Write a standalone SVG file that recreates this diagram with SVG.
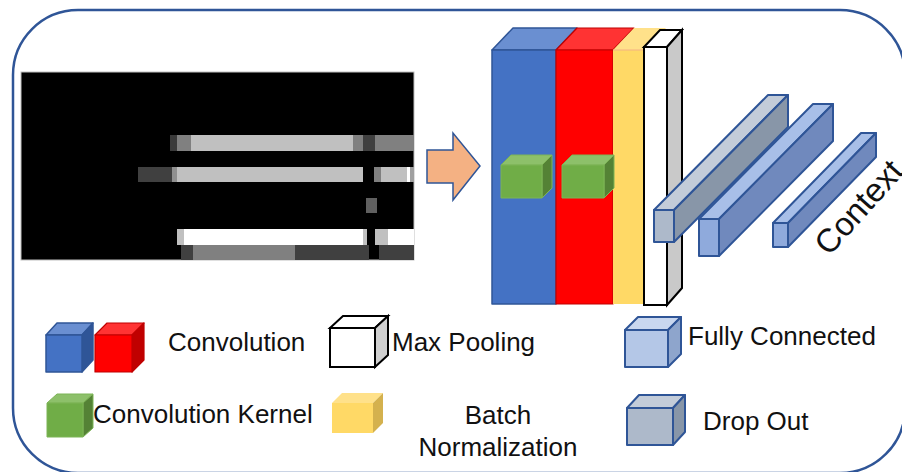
<svg xmlns="http://www.w3.org/2000/svg" width="902" height="472" viewBox="0 0 902 472">
  <style>
    .lbl { font-family: "Liberation Sans", Arial, sans-serif; font-size: 26px; fill: #111; }
    .ctx { font-family: "Liberation Sans", Arial, sans-serif; font-size: 33px; fill: #111; }
    .blue-f { fill: #4472C4; } .blue-t { fill: #6A8FD1; } .blue-s { fill: #2F5597; }
    .blue-e { stroke: #2F5597; stroke-width: 1.5; stroke-linejoin: round; }
    .red-f { fill: #FF0000; } .red-t { fill: #FF3333; } .red-s { fill: #C00000; }
    .red-e { stroke: #C00000; stroke-width: 1.2; stroke-linejoin: round; }
    .yel-f { fill: #FFD966; } .yel-t { fill: #FFE18A; } .yel-s { fill: #D4B14E; }
    .grn-f { fill: #70AD47; } .grn-t { fill: #8DC06A; } .grn-s { fill: #548235; }
    .grn-e { stroke: #7DB456; stroke-width: 1; stroke-linejoin: round; }
    .mp-e { stroke: #000; stroke-width: 2; stroke-linejoin: miter; }
    .fc-f { fill: #B4C7E7; } .fc-t { fill: #C9D7EF; } .fc-s { fill: #8EA5CC; }
    .fc2-f { fill: #8FAADC; } .fc2-t { fill: #A8BFE8; } .fc2-s { fill: #7089BD; }
    .do-f { fill: #ADB9CA; } .do-t { fill: #C3CCD9; } .do-s { fill: #8896A8; }
    .edge { stroke: #2F5597; stroke-width: 2; stroke-linejoin: round; }
  </style>

  <!-- outer frame -->
  <rect x="13" y="10" width="892" height="463" rx="65" ry="65" fill="#fff" stroke="#2F5597" stroke-width="2.5"/>

  <!-- input spectrogram-like image -->
  <g id="input-image">
    <rect x="21" y="72" width="393" height="188" fill="#000" stroke="#BFBFBF" stroke-width="1"/>
    <!-- row 1 -->
    <rect x="170" y="135" width="7" height="16" fill="#3A3A3A"/>
    <rect x="177" y="135" width="14" height="16" fill="#808080"/>
    <rect x="191" y="135" width="162" height="16" fill="#C0C0C0"/>
    <rect x="353" y="135" width="10" height="16" fill="#808080"/>
    <rect x="363" y="135" width="12" height="16" fill="#404040"/>
    <rect x="375" y="135" width="39" height="16" fill="#808080"/>
    <!-- row 2 -->
    <rect x="138" y="167" width="34" height="15" fill="#404040"/>
    <rect x="172" y="167" width="5" height="15" fill="#909090"/>
    <rect x="177" y="167" width="186" height="15" fill="#C0C0C0"/>
    <rect x="374" y="167" width="7" height="15" fill="#808080"/>
    <rect x="381" y="167" width="26" height="15" fill="#C0C0C0"/>
    <rect x="407" y="167" width="3" height="15" fill="#FFFFFF"/>
    <rect x="410" y="167" width="4" height="15" fill="#A0A0A0"/>
    <!-- row 3 -->
    <rect x="366" y="198" width="11" height="15" fill="#606060"/>
    <!-- row 4 -->
    <rect x="177" y="229" width="7" height="16" fill="#C0C0C0"/>
    <rect x="184" y="229" width="179" height="16" fill="#FFFFFF"/>
    <rect x="363" y="229" width="4" height="16" fill="#C0C0C0"/>
    <rect x="375" y="229" width="13" height="16" fill="#C0C0C0"/>
    <rect x="388" y="229" width="26" height="16" fill="#FFFFFF"/>
    <!-- row 5 -->
    <rect x="181" y="245" width="12" height="15" fill="#404040"/>
    <rect x="193" y="245" width="102" height="15" fill="#808080"/>
    <rect x="295" y="245" width="74" height="15" fill="#404040"/>
    <rect x="379" y="245" width="35" height="15" fill="#404040"/>
  </g>

  <!-- flow arrow -->
  <g id="connectors">
    <polygon points="427,150 453,150 453,133 480,166 453,200 453,183 427,183" fill="#F4B183" stroke="#2F5597" stroke-width="1.5" stroke-linejoin="miter"/>
  </g>

  <!-- convolution stack -->
  <g id="conv-stack">
    <!-- blue convolution block -->
    <polygon class="blue-t blue-e" points="492,50 513,28 577,28 556,50"/>
    <rect class="blue-f blue-e" x="492" y="50" width="64" height="254"/>
    <!-- red convolution block -->
    <polygon class="red-t red-e" points="556,50 577,28 634,28 613,50"/>
    <rect class="red-f red-e" x="556" y="50" width="57" height="254"/>
    <!-- batch normalization slab -->
    <polygon class="yel-t" points="613,50 634,28 666,28 645,50"/>
    <rect class="yel-f" x="613" y="50" width="32" height="254"/>
    <line x1="613" y1="50" x2="645" y2="50" stroke="#F4B183" stroke-width="1"/>
    <!-- max pooling slab -->
    <polygon points="644,47 660,30 682,30 667,47" fill="#fff" class="mp-e"/>
    <polygon points="667,47 682,30 682,288 667,305" fill="#C9C9C9" class="mp-e"/>
    <rect x="644" y="47" width="23" height="258" fill="#fff" class="mp-e"/>
  </g>

  <!-- convolution kernels -->
  <g id="kernel-1">
    <polygon class="grn-t grn-e" points="501,165 511,155 552,155 542,165"/>
    <polygon class="grn-s grn-e" points="542,165 552,155 552,188 542,198"/>
    <rect class="grn-f grn-e" x="501" y="165" width="41" height="33"/>
  </g>
  <g id="kernel-2">
    <polygon class="grn-t grn-e" points="562,165 572,155 614,155 604,165"/>
    <polygon class="grn-s grn-e" points="604,165 614,155 614,188 604,198"/>
    <rect class="grn-f grn-e" x="562" y="165" width="42" height="33"/>
  </g>

  <!-- dropout bar -->
  <g id="dropout-bar">
    <polygon class="do-t edge" points="654,210 768,95 788,95 674,210"/>
    <polygon class="do-s edge" points="674,210 788,95 788,127 674,242"/>
    <rect class="do-f edge" x="654" y="210" width="20" height="32"/>
  </g>
  <!-- fully connected bars -->
  <g id="fc-bar-1">
    <polygon class="fc2-t edge" points="699,219 813,104 833,104 719,219"/>
    <polygon class="fc2-s edge" points="719,219 833,104 833,141 719,256"/>
    <rect class="fc2-f edge" x="699" y="219" width="20" height="37"/>
  </g>
  <g id="fc-bar-2">
    <polygon class="fc2-t edge" points="773,223 861,133 876,133 788,223"/>
    <polygon class="fc2-s edge" points="788,223 876,133 876,157 788,247"/>
    <rect class="fc2-f edge" x="773" y="223" width="15" height="24"/>
  </g>

  <g id="context-label">
    <text class="ctx" x="0" y="0" transform="translate(829,257) rotate(-48)">Context</text>
  </g>

  <!-- legend -->
  <g id="legend-convolution">
    <polygon class="blue-t blue-e" points="46,335 57,323 93,323 82,335"/>
    <polygon class="blue-s blue-e" points="82,335 93,323 93,360 82,372"/>
    <rect class="blue-f blue-e" x="46" y="335" width="36" height="37"/>
    <polygon class="red-t red-e" points="95,335 107,323 144,323 132,335"/>
    <polygon class="red-s red-e" points="132,335 144,323 144,360 132,372"/>
    <rect class="red-f red-e" x="95" y="335" width="37" height="37"/>
    <text class="lbl" x="168" y="351">Convolution</text>
  </g>
  <g id="legend-kernel">
    <polygon class="grn-t grn-e" points="47,403 57,394 93,394 83,403"/>
    <polygon class="grn-s grn-e" points="83,403 93,394 93,428 83,437"/>
    <rect class="grn-f grn-e" x="47" y="403" width="36" height="34"/>
    <text class="lbl" x="93" y="423">Convolution Kernel</text>
  </g>
  <g id="legend-maxpool">
    <polygon points="330,328 343,316 388,316 375,328" fill="#fff" class="mp-e"/>
    <polygon points="375,328 388,316 388,355 375,367" fill="#D0D0D0" class="mp-e"/>
    <rect x="330" y="328" width="45" height="39" fill="#fff" class="mp-e"/>
    <text class="lbl" x="392" y="351">Max Pooling</text>
  </g>
  <g id="legend-batchnorm">
    <polygon class="yel-t" points="332,403 342,393 383,393 373,403"/>
    <polygon class="yel-s" points="373,403 383,393 383,423 373,433"/>
    <rect class="yel-f" x="332" y="403" width="41" height="30"/>
    <text class="lbl" x="498" y="424" text-anchor="middle">Batch</text>
    <text class="lbl" x="498" y="456" text-anchor="middle">Normalization</text>
  </g>
  <g id="legend-fc">
    <polygon class="fc-t edge" points="625,330 638,317 681,317 668,330"/>
    <polygon class="fc-s edge" points="668,330 681,317 681,354 668,367"/>
    <rect class="fc-f edge" x="625" y="330" width="43" height="37"/>
    <text class="lbl" x="688" y="345">Fully Connected</text>
  </g>
  <g id="legend-dropout">
    <polygon class="do-t edge" points="627,408 639,395 685,395 673,408"/>
    <polygon class="do-s edge" points="673,408 685,395 685,432 673,445"/>
    <rect class="do-f edge" x="627" y="408" width="46" height="37"/>
    <text class="lbl" x="703" y="430">Drop Out</text>
  </g>
</svg>
